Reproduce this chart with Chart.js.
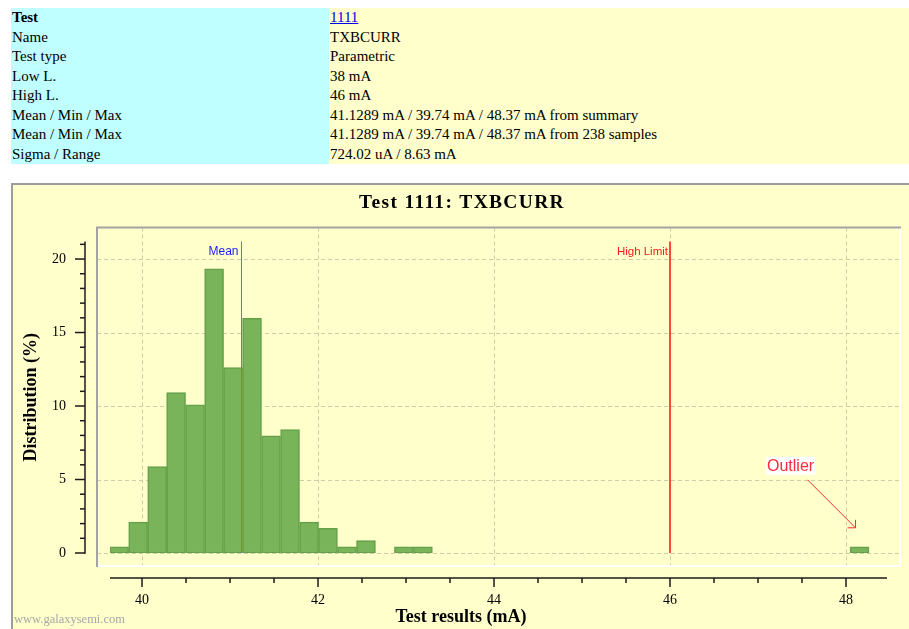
<!DOCTYPE html>
<html>
<head>
<meta charset="utf-8">
<script src="https://cdn.jsdelivr.net/npm/chart.js@4/dist/chart.umd.min.js"></script>
<style>
  html, body { margin: 0; padding: 0; background: #fff; overflow: hidden; width: 909px; height: 629px; }
  #info { position: absolute; left: 11px; top: 8px; width: 898px; border-collapse: collapse;
          font: 15px "Liberation Serif", serif; color: #000; }
  #info td { height: 19.5px; padding: 0 1px; line-height: 19.5px; white-space: nowrap; vertical-align: middle; }
  #info td.k { width: 316px; background: #c0ffff; }
  #info td.v { background: #ffffcc; }
  #info a { color: #0000ee; }
  #panel { position: absolute; left: 11px; top: 183px; width: 940px; height: 480px;
           border: 2px solid #9c9c9c; background: #ffffcc; }
  #wrap { position: absolute; left: 13px; top: 186px; width: 896px; height: 443px; }
  #mark { position: absolute; left: 14px; top: 612px; font: 12.5px "Liberation Serif", serif; color: #a8a8a8; }
</style>
</head>
<body>
<table id="info">
  <tr><td class="k"><b>Test</b></td><td class="v"><a href="#">1111</a></td></tr>
  <tr><td class="k">Name</td><td class="v">TXBCURR</td></tr>
  <tr><td class="k">Test type</td><td class="v">Parametric</td></tr>
  <tr><td class="k">Low L.</td><td class="v">38 mA</td></tr>
  <tr><td class="k">High L.</td><td class="v">46 mA</td></tr>
  <tr><td class="k">Mean / Min / Max</td><td class="v">41.1289 mA / 39.74 mA / 48.37 mA from summary</td></tr>
  <tr><td class="k">Mean / Min / Max</td><td class="v">41.1289 mA / 39.74 mA / 48.37 mA from 238 samples</td></tr>
  <tr><td class="k">Sigma / Range</td><td class="v">724.02 uA / 8.63 mA</td></tr>
</table>
<div id="panel"></div>
<div id="wrap"><canvas id="chart" width="896" height="443"></canvas></div>
<div id="mark">www.galaxysemi.com</div>

<script>
// Histogram bin centres (mA)
const binCenters = [
  39.740, 39.956, 40.172, 40.387, 40.603, 40.819, 41.035, 41.250, 41.466, 41.682,
  41.898, 42.113, 42.329, 42.545, 42.761, 42.976, 43.192, 43.408, 43.624, 43.839,
  44.055, 44.271, 44.487, 44.702, 44.918, 45.134, 45.350, 45.565, 45.781, 45.997,
  46.213, 46.428, 46.644, 46.860, 47.076, 47.291, 47.507, 47.723, 47.939, 48.154
];
// Share of samples in each bin (%)
const distribution = [
  0.42, 2.10, 5.88, 10.92, 10.08, 19.33, 12.61, 15.97, 7.98, 8.40,
  2.10, 1.68, 0.42, 0.84, 0, 0.42, 0.42, 0, 0, 0,
  0, 0, 0, 0, 0, 0, 0, 0, 0, 0,
  0, 0, 0, 0, 0, 0, 0, 0, 0, 0.42
];
const meanValue = 41.1289;
const highLimit = 46;
const outlierIndex = 39;

const chartTitle = 'Test 1111: TXBCURR';
const xTitle = 'Test results (mA)';
const yTitle = 'Distribution (%)';

const SERIF = '"Liberation Serif", "Times New Roman", serif';
const SANS = '"Liberation Sans", Arial, sans-serif';

function seg(ctx, x1, y1, x2, y2) {
  ctx.beginPath(); ctx.moveTo(x1, y1); ctx.lineTo(x2, y2); ctx.stroke();
}

const decor = {
  id: 'decor',
  beforeDatasetsDraw(chart) {
    const { ctx, chartArea: a, scales: { x, y } } = chart;
    const box = { l: a.left - 13, t: a.top - 14, r: a.right + 13, b: a.bottom + 13 };
    ctx.save();
    // dashed grid across the plot frame
    ctx.strokeStyle = '#cfcca8';
    ctx.lineWidth = 1;
    ctx.setLineDash([4, 3]);
    x.ticks.forEach(t => {
      const px = Math.round(x.getPixelForValue(t.value)) + 0.5;
      seg(ctx, px, box.t, px, box.b);
    });
    y.ticks.forEach(t => {
      const py = Math.round(y.getPixelForValue(t.value)) + 0.5;
      seg(ctx, box.l, py, box.r, py);
    });
    ctx.setLineDash([]);
    // sunken frame: grey top/left, white bottom/right
    ctx.lineWidth = 2;
    ctx.strokeStyle = '#ffffff';
    seg(ctx, box.r, box.t, box.r, box.b + 1);
    seg(ctx, box.l, box.b, box.r + 1, box.b);
    ctx.strokeStyle = '#a3a3a3';
    seg(ctx, box.l - 1, box.t, box.r + 1, box.t);
    seg(ctx, box.l, box.t, box.l, box.b + 1);
    ctx.restore();
  },
  afterDatasetsDraw(chart) {
    const { ctx, chartArea: a, scales: { x, y } } = chart;
    const yTop = y.getPixelForValue(y.max);
    const yBase = y.getPixelForValue(0);
    ctx.save();

    // mean marker
    const mx = Math.round(x.getPixelForValue(meanValue)) + 0.5;
    ctx.strokeStyle = '#6f6fe0';
    ctx.lineWidth = 1;
    seg(ctx, mx, yTop, mx, yBase);
    ctx.font = '12px ' + SANS;
    ctx.textAlign = 'right';
    ctx.textBaseline = 'alphabetic';
    ctx.fillStyle = '#1a1aff';
    ctx.fillText('Mean', mx - 3, yTop + 14);

    // high limit marker
    const hx = x.getPixelForValue(highLimit);
    ctx.strokeStyle = '#ff4a3a';
    ctx.lineWidth = 2;
    seg(ctx, hx, yTop, hx, yBase);
    ctx.fillStyle = '#ff1a1a';
    ctx.font = '11.5px ' + SANS;
    ctx.fillText('High Limit', hx - 2, yTop + 14);

    // outlier callout, placed from the outlier bar
    const bar = chart.getDatasetMeta(0).data[outlierIndex];
    const bx = bar.x, by = bar.y;
    const tipX = bx - 4, tipY = by - 19;
    const tailX = bx - 52, tailY = by - 67;
    ctx.strokeStyle = '#ff2a2a';
    ctx.lineWidth = 1;
    seg(ctx, tailX, tailY, tipX, tipY);
    seg(ctx, tipX, tipY, tipX, tipY - 8);
    seg(ctx, tipX, tipY, tipX - 8, tipY);
    ctx.font = '16px ' + SANS;
    ctx.textAlign = 'center';
    ctx.textBaseline = 'middle';
    const lx = bx - 69, ly = by - 81;
    const tw = ctx.measureText('Outlier').width;
    ctx.fillStyle = '#ffffff';
    ctx.fillRect(lx - tw / 2 - 1, ly - 9, tw + 2, 18);
    ctx.fillStyle = '#ff2a3a';
    ctx.fillText('Outlier', lx, ly + 1);

    // detached axes
    ctx.strokeStyle = '#1a1a1a';
    ctx.lineWidth = 1.5;
    const ax = a.left - 25;
    seg(ctx, ax, yTop, ax, yBase + 0.75);
    for (let v = 0; v <= y.max; v += 1) {
      const py = y.getPixelForValue(v);
      seg(ctx, ax, py, ax - (v % 5 === 0 ? 10 : 5), py);
    }
    const ay = a.bottom + 25;
    seg(ctx, a.left, ay, a.right, ay);
    for (let k = Math.ceil(x.min * 2); k <= Math.floor(x.max * 2); k++) {
      const v = k / 2;
      const px = x.getPixelForValue(v);
      seg(ctx, px, ay, px, ay + (k % 4 === 0 ? 9 : 5));
    }

    // titles
    ctx.fillStyle = '#000';
    ctx.textAlign = 'center';
    ctx.textBaseline = 'alphabetic';
    ctx.font = 'bold 19.5px ' + SERIF;
    ctx.letterSpacing = '1.3px';
    ctx.fillText(chartTitle, chart.width / 2 + 1, 21.5);
    ctx.letterSpacing = '0px';
    ctx.font = 'bold 18px ' + SERIF;
    ctx.fillText(xTitle, chart.width / 2, 436);
    ctx.save();
    ctx.translate(18, (a.top + a.bottom) / 2);
    ctx.rotate(-Math.PI / 2);
    ctx.textBaseline = 'middle';
    ctx.fillText(yTitle, 0, 0);
    ctx.restore();

    ctx.restore();
  }
};

const points = binCenters.map((c, i) => ({ x: c, y: distribution[i] }));

new Chart(document.getElementById('chart'), {
  type: 'bar',
  data: {
    datasets: [{
      data: points,
      backgroundColor: '#79b35a',
      borderColor: '#64a047',
      borderWidth: 1.5,
      borderSkipped: false,
      barPercentage: 1,
      categoryPercentage: 1
    }]
  },
  options: {
    responsive: false,
    animation: false,
    layout: { padding: { left: 0, right: 22, top: 55.4, bottom: 0 } },
    plugins: {
      legend: { display: false },
      tooltip: { enabled: false },
      title: { display: false }
    },
    scales: {
      x: {
        type: 'linear',
        min: 39.636,
        max: 48.466,
        offset: false,
        grid: { display: false, drawTicks: false },
        border: { display: false },
        ticks: {
          stepSize: 2, includeBounds: false, padding: 39, color: '#000',
          maxRotation: 0, autoSkip: false,
          font: { family: SERIF, size: 14 }
        },
        afterFit(s) { s.height = 76; }
      },
      y: {
        min: 0,
        max: 21.2,
        grid: { display: false, drawTicks: false },
        border: { display: false },
        ticks: {
          stepSize: 5, includeBounds: false, padding: 44, color: '#000',
          font: { family: SERIF, size: 14 }
        },
        afterFit(s) { s.width = 97; }
      }
    }
  },
  plugins: [decor]
});
</script>
</body>
</html>
